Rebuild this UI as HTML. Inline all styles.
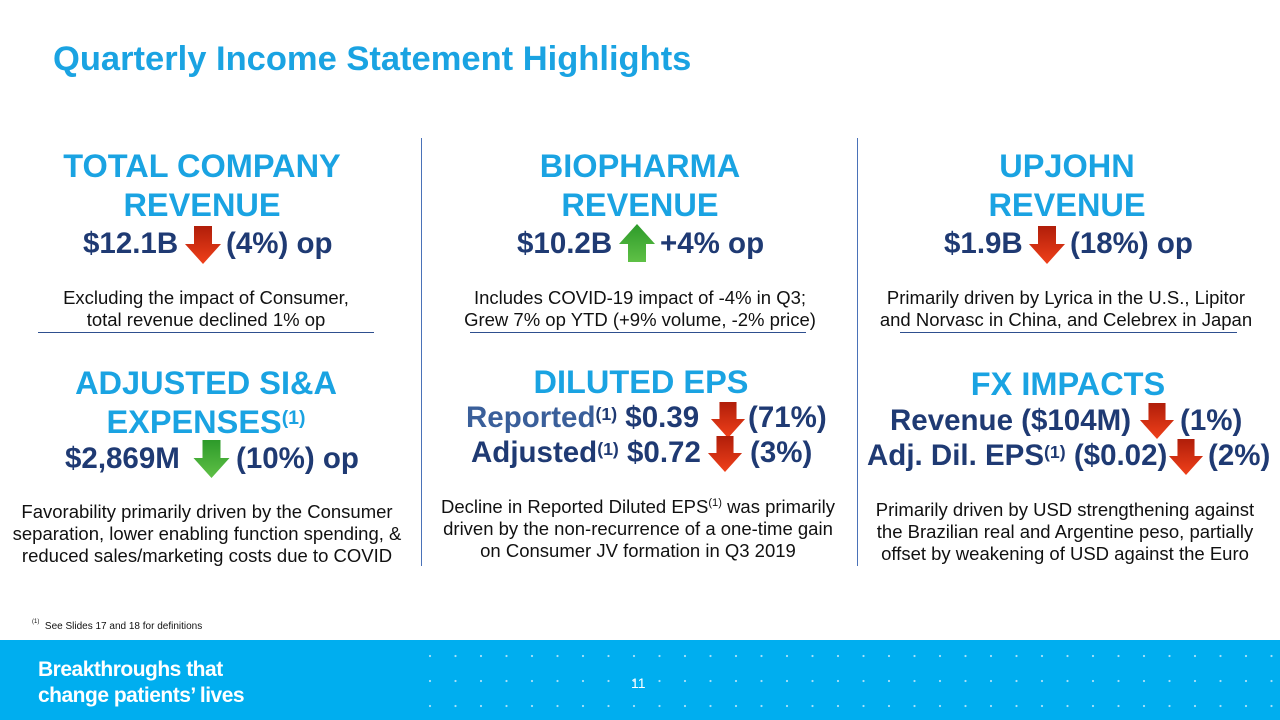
<!DOCTYPE html>
<html><head><meta charset="utf-8"><style>
body{margin:0;width:1280px;height:720px;position:relative;background:#fff;font-family:"Liberation Sans",Arial,sans-serif;overflow:hidden}
.a{position:absolute;white-space:nowrap}
.c{position:absolute;text-align:center;transform:translateX(-50%);white-space:nowrap}
.h{color:#1aa3e2;font-weight:bold;font-size:32.5px;line-height:39px}
.v{color:#1f3a73;font-weight:bold;font-size:29.5px;line-height:34px}
.s{color:#111;font-size:18.5px;line-height:22px}
sup{font-size:60%;vertical-align:top;position:relative;top:-4px}
.vl{position:absolute;width:1px;background:#4a72b8;top:138px;height:428px}
.hl{position:absolute;height:1px;background:#2e4f8f;top:332px}
svg{position:absolute}
</style></head><body>
<div class="a" style="left:53px;top:40px;color:#1aa3e2;font-weight:bold;font-size:34.5px">Quarterly Income Statement Highlights</div>
<div class="vl" style="left:421px"></div><div class="vl" style="left:857px"></div>
<div class="hl" style="left:38px;width:336px"></div>
<div class="hl" style="left:470px;width:336px"></div>
<div class="hl" style="left:900px;width:337px"></div>

<div class="c h" style="left:202px;top:147px">TOTAL COMPANY<br>REVENUE</div>
<div class="c h" style="left:640px;top:147px">BIOPHARMA<br>REVENUE</div>
<div class="c h" style="left:1067px;top:147px">UPJOHN<br>REVENUE</div>

<div class="a v" style="left:83px;top:227px">$12.1B</div>
<div class="a v" style="left:226px;top:227px">(4%) op</div>
<div class="a v" style="left:517px;top:227px">$10.2B</div>
<div class="a v" style="left:660px;top:227px">+4% op</div>
<div class="a v" style="left:944px;top:227px">$1.9B</div>
<div class="a v" style="left:1070px;top:227px">(18%) op</div>

<div class="c s" style="left:206px;top:287px">Excluding the impact of Consumer,<br>total revenue declined 1% op</div>
<div class="c s" style="left:640px;top:287px">Includes COVID-19 impact of -4% in Q3;<br>Grew 7% op YTD (+9% volume, -2% price)</div>
<div class="c s" style="left:1066px;top:287px">Primarily driven by Lyrica in the U.S., Lipitor<br>and Norvasc in China, and Celebrex in Japan</div>

<div class="c h" style="left:206px;top:364px">ADJUSTED SI&amp;A<br>EXPENSES<sup>(1)</sup></div>
<div class="c h" style="left:641px;top:363px">DILUTED EPS</div>
<div class="c h" style="left:1068px;top:365px">FX IMPACTS</div>

<div class="a v" style="left:65px;top:442px">$2,869M</div>
<div class="a v" style="left:236px;top:442px">(10%) op</div>
<div class="a v" style="left:466px;top:401px"><span style="color:#3a5f9a">Reported</span><sup>(1)</sup> $0.39</div>
<div class="a v" style="left:748px;top:401px">(71%)</div>
<div class="a v" style="left:471px;top:436px">Adjusted<sup>(1)</sup> $0.72</div>
<div class="a v" style="left:750px;top:436px">(3%)</div>
<div class="a v" style="left:890px;top:404px">Revenue ($104M)</div>
<div class="a v" style="left:1180px;top:404px">(1%)</div>
<div class="a v" style="left:867px;top:439px">Adj. Dil. EPS<sup>(1)</sup> ($0.02)</div>
<div class="a v" style="left:1208px;top:439px">(2%)</div>

<div class="c s" style="left:207px;top:501px">Favorability primarily driven by the Consumer<br>separation, lower enabling function spending, &amp;<br>reduced sales/marketing costs due to COVID</div>
<div class="c s" style="left:638px;top:496px">Decline in Reported Diluted EPS<sup>(1)</sup> was primarily<br>driven by the non-recurrence of a one-time gain<br>on Consumer JV formation in Q3 2019</div>
<div class="c s" style="left:1065px;top:499px">Primarily driven by USD strengthening against<br>the Brazilian real and Argentine peso, partially<br>offset by weakening of USD against the Euro</div>

<svg width="0" height="0"><defs>
<linearGradient id="r" x1="0" y1="0" x2="0" y2="1"><stop offset="0" stop-color="#b01e0a"/><stop offset="1" stop-color="#f0401a"/></linearGradient>
<linearGradient id="g" x1="0" y1="0" x2="0" y2="1"><stop offset="0" stop-color="#2d9a2a"/><stop offset="1" stop-color="#5fc046"/></linearGradient>
<symbol id="dn" viewBox="0 0 36 38"><polygon points="9,0 27,0 27,18 36,18 18,38 0,18 9,18" fill="url(#r)"/></symbol>
<symbol id="gd" viewBox="0 0 36 38"><polygon points="9,0 27,0 27,18 36,18 18,38 0,18 9,18" fill="url(#g)"/></symbol>
<symbol id="up" viewBox="0 0 36 38"><polygon points="18,0 36,20 27,20 27,38 9,38 9,20 0,20" fill="url(#g)"/></symbol>
</defs></svg>
<svg style="left:185px;top:226px" width="36" height="38"><use href="#dn"/></svg>
<svg style="left:619px;top:224px" width="36" height="38"><use href="#up"/></svg>
<svg style="left:1029px;top:226px" width="36" height="38"><use href="#dn"/></svg>
<svg style="left:193px;top:440px" width="37" height="38"><use href="#gd"/></svg>
<svg style="left:710px;top:402px" width="36" height="36"><use href="#dn"/></svg>
<svg style="left:707px;top:436px" width="36" height="36"><use href="#dn"/></svg>
<svg style="left:1139px;top:403px" width="36" height="36"><use href="#dn"/></svg>
<svg style="left:1168px;top:439px" width="36" height="36"><use href="#dn"/></svg>

<div class="a" style="left:32px;top:621px;font-size:10px;color:#111"><sup style="top:-2px">(1)</sup> &nbsp;See Slides 17 and 18 for definitions</div>
<div class="a" style="left:0;top:640px;width:1280px;height:80px;background:#00aeef"></div>
<svg style="left:420px;top:640px" width="860" height="80">
<defs><pattern id="d" x="0" y="0" width="25.5" height="25" patternUnits="userSpaceOnUse"><circle cx="10" cy="16" r="1.1" fill="#a8e0f8"/></pattern></defs>
<rect width="860" height="80" fill="url(#d)"/></svg>
<div class="a" style="left:38px;top:657px;color:#fff;font-size:21px;line-height:26px;font-weight:bold;letter-spacing:-0.5px">Breakthroughs that<br>change patients’ lives</div>
<div class="a" style="left:631px;top:675px;color:#fff;font-size:14px">11</div>
</body></html>
